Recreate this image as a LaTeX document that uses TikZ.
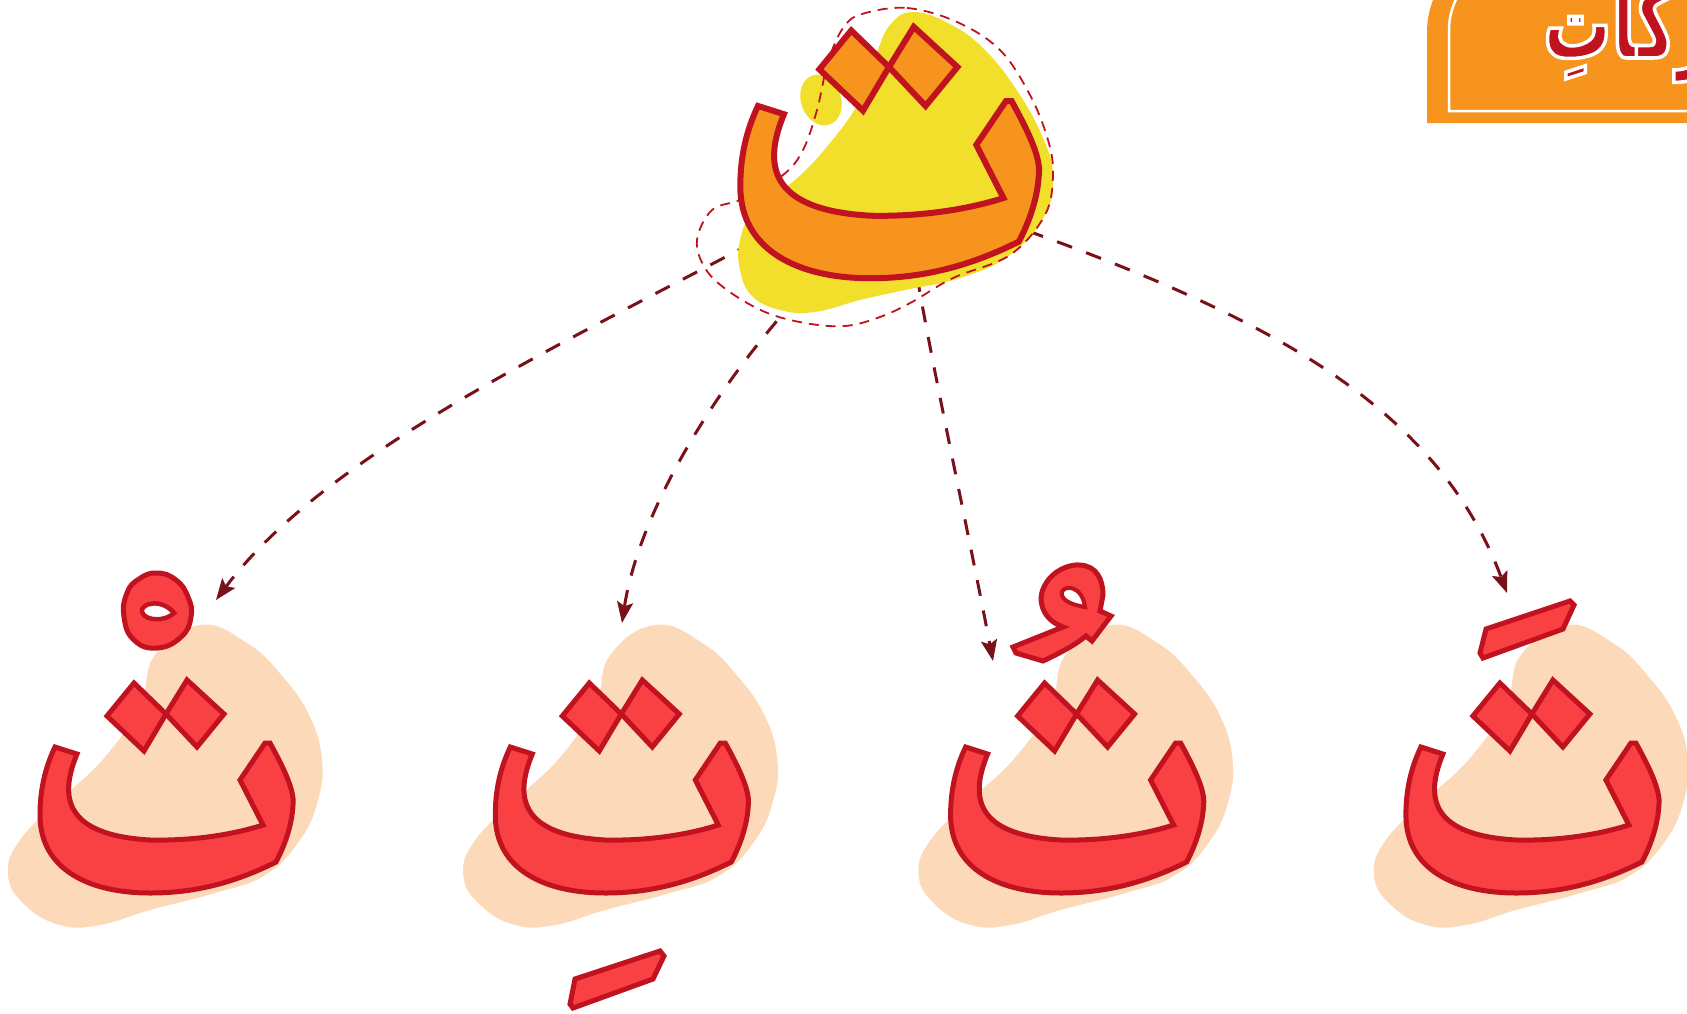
\documentclass[tikz,border=0pt]{standalone}
\usepackage{fontspec}
\usetikzlibrary{arrows.meta}
\TeXXeTstate=1
\newfontfamily\arabicfont[Script=Arabic, FakeStretch=0.68]{DejaVu Sans}
\definecolor{peach}{HTML}{FCD9B8}
\definecolor{lred}{HTML}{F94144}
\definecolor{ored}{HTML}{C1121F}
\definecolor{orangec}{HTML}{F7941D}
\definecolor{yellowc}{HTML}{F2DF2C}
\definecolor{arrowc}{HTML}{7A1018}
\newcommand{\glyphtha}[1]{%
  \path[#1] (55,747) -- (77,754) .. controls (60,795) and (62,835) .. (150,840)
    .. controls (195,841) and (235,834) .. (263,825) -- (240,780) -- (265,743) -- (270,743)
    .. controls (282,765) and (295,790) .. (293,805) .. controls (292,825) and (285,845) .. (276,862)
    .. controls (230,885) and (190,893) .. (150,893) .. controls (90,893) and (40,870) .. (40,815)
    .. controls (40,790) and (45,768) .. (55,747) -- cycle;
  \path[#1] (107,716) -- (134,683) -- (166,714) -- (144,751) -- cycle;
  \path[#1] (166,714) -- (187,680) -- (224,714) -- (197,747) -- cycle;
}
\newcommand{\blobpeach}{%
  \fill[peach] plot[smooth cycle, tension=0.75] coordinates {(200,625) (247,643) (283,677) (310,717) (322,760) (318,800) (300,840) (265,875) (215,893) (150,910) (100,925) (60,925) (25,905) (8,875) (20,840) (60,800) (105,757) (140,705) (155,655)};
}
\begin{document}
\begin{tikzpicture}[x=1pt,y=-1pt,
  arrowline/.style={draw=arrowc, line width=3pt, dash pattern=on 16pt off 15pt, -{Stealth[length=21pt,width=16pt,inset=4pt]}},
  dashblob/.style={draw=ored, line width=1.8pt, dash pattern=on 10pt off 7pt},
  letterstyle/.style={fill=lred, draw=ored, line width=5pt},
  topletter/.style={fill=orangec, draw=ored, line width=6pt}]
\useasboundingbox (0,0) rectangle (1687,1013);
% peach blobs
\foreach \i in {0,1,2,3} {\begin{scope}[shift={(455.3*\i,0)}]\blobpeach\end{scope}}
% bottom letters
\foreach \i in {0,1,2,3} {\begin{scope}[shift={(455.3*\i,0)}]\glyphtha{letterstyle}\end{scope}}
% sukun
\draw[letterstyle] plot[smooth cycle, tension=0.8] coordinates {(157,573) (176,580) (188,597) (191,617) (181,637) (157,648) (134,640) (124,617) (127,593) (139,579)};
\draw[fill=white, draw=ored, line width=4.5pt] (174,613) .. controls (165,622) and (145,621) .. (142,612) .. controls (140,603) and (162,598) .. (174,613) -- cycle;
% kasra
\draw[letterstyle] (575,979) -- (660,951) -- (664,956) -- (653,979) -- (573,1008) -- (570,1004) -- cycle;
% damma
\draw[letterstyle] (1013,647) -- (1063,627) .. controls (1043,620) and (1036,600) .. (1045,585)
  .. controls (1053,570) and (1070,564) .. (1080,565) .. controls (1097,566) and (1103,580) .. (1103,595)
  -- (1100,611) -- (1111,616) -- (1092,641) -- (1086,636) .. controls (1075,645) and (1060,653) .. (1043,661) -- (1016,653) -- cycle;
\draw[fill=white, draw=ored, line width=4pt] (1085,607) .. controls (1072,605) and (1060,600) .. (1062,592) .. controls (1064,585) and (1082,585) .. (1085,607) -- cycle;
% fatha
\draw[letterstyle] (1486,629) -- (1570,601) -- (1574,605) -- (1563,629) -- (1483,658) -- (1480,653) -- cycle;
% arrows
\coordinate (s1) at (752,243); \coordinate (e1) at (216,600);
\coordinate (s2) at (797,298); \coordinate (e2) at (622,623);
\coordinate (s3) at (917,276); \coordinate (e3) at (993,661);
\coordinate (s4) at (1028,231); \coordinate (e4) at (1507,593);
\draw[arrowline] (s1) .. controls (554,348) and (324,456) .. (e1);
\draw[arrowline] (s2) .. controls (702,403) and (637,523) .. (e2);
\draw[arrowline] (s3) .. controls (935,380) and (968,530) .. (e3);
\draw[arrowline] (s4) .. controls (1265,317) and (1437,405) .. (e4);
% yellow blob and dot
\fill[yellowc] plot[smooth cycle, tension=0.7] coordinates {(913,12) (950,24) (985,50) (1018,92) (1043,138) (1053,175) (1045,215) (1010,255) (960,278) (905,290) (860,300) (815,312) (780,310) (752,296) (740,270) (740,240) (755,210) (795,180) (830,143) (860,100) (876,55) (890,25)};
\fill[yellowc, rotate around={20:(821,100)}] (821,100) ellipse [x radius=20pt, y radius=26pt];
% dashed outline
\draw[dashblob] plot[smooth cycle, tension=0.6] coordinates {(862,14) (907,8) (957,22) (1000,50) (1030,95) (1048,140) (1053,175) (1045,215) (1010,255) (953,278) (912,302) (880,317) (845,326) (805,323) (765,312) (727,290) (705,268) (697,240) (712,210) (742,199) (783,175) (803,150) (817,110) (828,62) (843,28)};
% top letter
\begin{scope}[shift={(693.1,-775.5)}, scale=1.18]\glyphtha{topletter}\end{scope}
% banner
\fill[orangec] (1700,123) -- (1427,123) -- (1427,32) .. controls (1427,-16.6) and (1466.4,-56) .. (1515,-56) -- (1700,-56) -- cycle;
\draw[white, line width=2.5pt] (1700,111) -- (1449,111) -- (1449,30) .. controls (1449,-8.7) and (1480.3,-40) .. (1519,-40) -- (1700,-40);
\node[anchor=base west, inner sep=0pt, text=ored, font=\arabicfont\bfseries\fontsize{100}{110}\selectfont] (title) at (1543,58) {\special{pdf:literal direct 1 1 1 RG 2 Tr 3.5 w}\beginR حَرَكَاتِ\endR\special{pdf:literal direct 0 Tr}};
\end{tikzpicture}
\end{document}
